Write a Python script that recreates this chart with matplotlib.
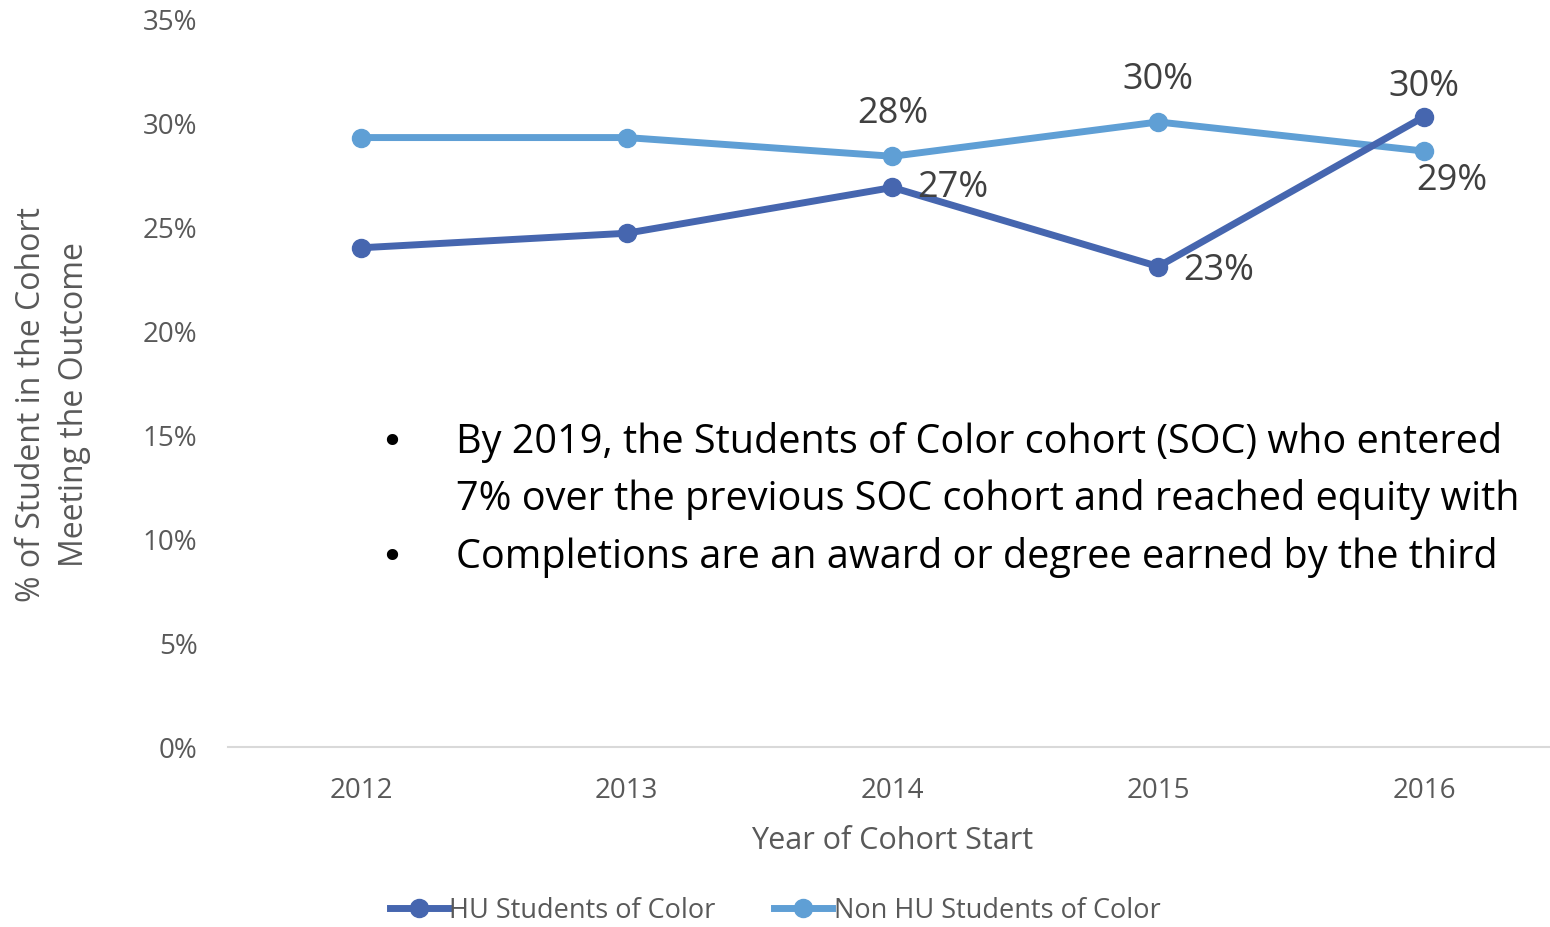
import matplotlib
matplotlib.use("Agg")
import matplotlib.pyplot as plt
from matplotlib.lines import Line2D

years = ["2012", "2013", "2014", "2015", "2016"]
hu_soc = [24.0, 24.7, 26.9, 23.1, 30.3]
non_hu_soc = [29.3, 29.3, 28.4, 30.05, 28.65]
y_ticks = [0, 5, 10, 15, 20, 25, 30, 35]

hu_label_text = {2: "27%", 3: "23%", 4: "30%"}
non_hu_label_text = {2: "28%", 3: "30%", 4: "29%"}

bullet_lines = [
    ("•", "By 2019, the Students of Color cohort (SOC) who entered"),
    ("", "7% over the previous SOC cohort and reached equity with"),
    ("•", "Completions are an award or degree earned by the third"),
]

HU_COLOR = "#4666AF"
NONHU_COLOR = "#5F9FD5"
TICK_COLOR = "#595959"
LABEL_COLOR = "#404040"

W, H = 1550, 928
fig = plt.figure(figsize=(W / 100, H / 100), dpi=100)
ax = fig.add_axes([228 / W, 1 - 748 / H, 1329 / W, (748 - 20) / H])

x = list(range(len(years)))
ax.plot(x, hu_soc, color=HU_COLOR, lw=5, marker="o", ms=13, zorder=3,
        solid_capstyle="round")
ax.plot(x, non_hu_soc, color=NONHU_COLOR, lw=5, marker="o", ms=13, zorder=2,
        solid_capstyle="round")

ax.set_xlim(-0.5, len(years) - 0.5)
ax.set_ylim(0, 35)
ax.set_xticks(x)
ax.set_xticklabels(years)
ax.set_yticks(y_ticks)
ax.set_yticklabels([f"{v}%" for v in y_ticks])
ax.tick_params(length=0, labelsize=20, labelcolor=TICK_COLOR)
ax.tick_params(axis="x", pad=21)
ax.tick_params(axis="y", pad=22)
for lab in ax.get_xticklabels() + ax.get_yticklabels():
    lab.set_fontfamily("Open Sans")

for s in ["top", "right", "left"]:
    ax.spines[s].set_visible(False)
ax.spines["bottom"].set_color("#D9D9D9")
ax.spines["bottom"].set_linewidth(1.5)
ax.patch.set_alpha(0)

ax.set_xlabel("Year of Cohort Start", fontsize=22, color=TICK_COLOR,
              family="Open Sans", labelpad=15)

fig.text(53 / W, 1 - 405 / H, "% of Student in the Cohort\nMeeting the Outcome",
         rotation=90, ha="center", va="center", fontsize=23, color=TICK_COLOR,
         family="Open Sans", linespacing=1.4)

label_font = "Open Sans"
hu_offsets = {2: (60, 0), 3: (60, -3), 4: (0, 31)}
non_hu_offsets = {2: (0, 43), 3: (0, 43), 4: (28, -29)}
for i, t in hu_label_text.items():
    ax.annotate(t, (x[i], hu_soc[i]), xytext=hu_offsets[i],
                textcoords="offset pixels", ha="center", va="center",
                fontsize=26, color=LABEL_COLOR, family=label_font, zorder=5)
for i, t in non_hu_label_text.items():
    ax.annotate(t, (x[i], non_hu_soc[i]), xytext=non_hu_offsets[i],
                textcoords="offset pixels", ha="center", va="center",
                fontsize=26, color=LABEL_COLOR, family=label_font, zorder=5)

line_y = [443, 500, 558]
for (b, t), yy in zip(bullet_lines, line_y):
    if b:
        fig.text(392 / W, 1 - yy / H, b, ha="center", va="center",
                 fontsize=28, color="black", family="DejaVu Sans")
    fig.text(456 / W, 1 - yy / H, t, ha="left", va="center",
             fontsize=28.5, color="black", family=label_font)

handles = [
    Line2D([], [], color=HU_COLOR, lw=5, marker="o", ms=13),
    Line2D([], [], color=NONHU_COLOR, lw=5, marker="o", ms=13),
]
fig.legend(handles, ["HU Students of Color", "Non HU Students of Color"],
           loc="center", bbox_to_anchor=(775 / W, 1 - 911 / H), ncol=2,
           frameon=False, handlelength=2.15, handletextpad=0.05,
           columnspacing=2.15, prop={"family": "Open Sans", "size": 19.5},
           labelcolor=TICK_COLOR, borderaxespad=0, borderpad=0.2)

fig.savefig("out.png", dpi=100)
